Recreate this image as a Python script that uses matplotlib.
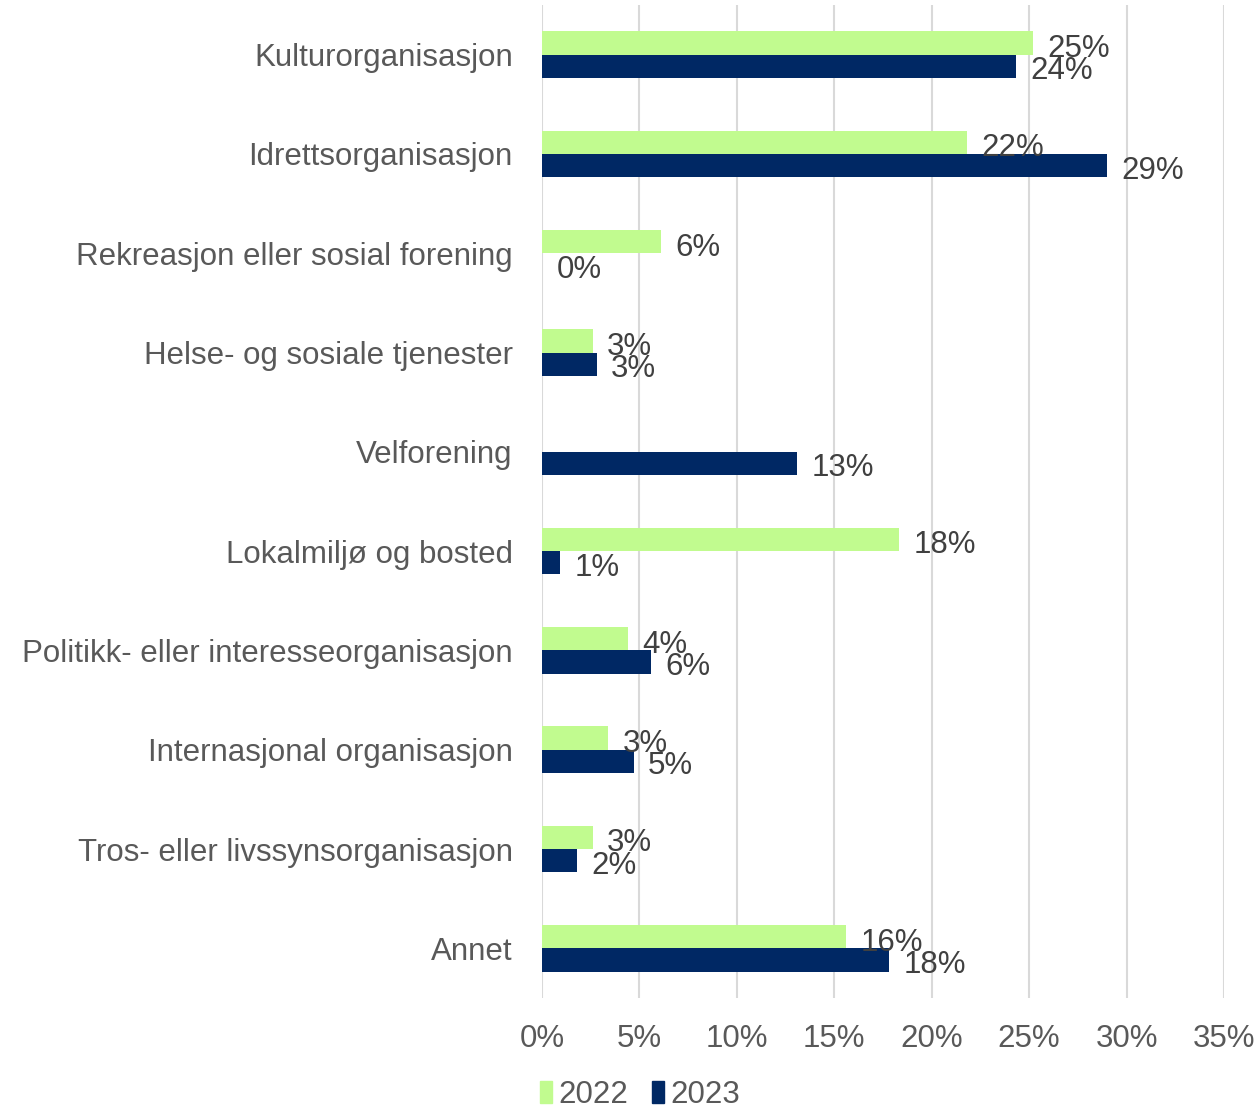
import numpy as np
import matplotlib
matplotlib.use("Agg")
import matplotlib.pyplot as plt
from matplotlib.ticker import FuncFormatter

categories = [
    "Kulturorganisasjon",
    "Idrettsorganisasjon",
    "Rekreasjon eller sosial forening",
    "Helse- og sosiale tjenester",
    "Velforening",
    "Lokalmiljø og bosted",
    "Politikk- eller interesseorganisasjon",
    "Internasjonal organisasjon",
    "Tros- eller livssynsorganisasjon",
    "Annet",
]
# percent; None = no 2022 value shown
vals_2022 = [25.2, 21.8, 6.1, 2.6, None, 18.3, 4.4, 3.4, 2.6, 15.6]
vals_2023 = [24.3, 29.0, 0.0, 2.8, 13.1, 0.9, 5.6, 4.7, 1.8, 17.8]
x_ticks = [0, 5, 10, 15, 20, 25, 30, 35]

C22 = "#c1fb8f"
C23 = "#002864"
FONT = "Liberation Sans"
FS = 22.5

plt.rcParams["font.family"] = [FONT, "DejaVu Sans"]

fig = plt.figure(figsize=(12.6, 11.1), dpi=100)
ax = fig.add_axes([542 / 1260, 1 - 998 / 1110, (1224 - 542) / 1260, (998 - 5) / 1110])

y = np.arange(len(categories))
h = 0.235
for i, (a, b) in enumerate(zip(vals_2022, vals_2023)):
    if a is not None:
        ax.barh(y[i] - h / 2, a, height=h, color=C22)
        ax.text(a + 0.75, y[i] - h / 2 + 0.06, f"{round(a):.0f}%", va="center", ha="left",
                fontsize=FS, color="#404040")
    ax.barh(y[i] + h / 2, b, height=h, color=C23)
    ax.text(b + 0.75, y[i] + h / 2 + 0.05, f"{round(b):.0f}%", va="center", ha="left",
            fontsize=FS, color="#404040")

ax.set_xlim(0, 35)
ax.set_ylim(len(categories) - 0.5, -0.5)
ax.set_xticks(x_ticks)
ax.xaxis.set_major_formatter(FuncFormatter(lambda v, p: f"{v:.0f}%"))
ax.set_yticks(y)
ax.set_yticklabels(categories)
ax.tick_params(axis="y", length=0, pad=21, labelsize=FS, labelcolor="#595959")
ax.tick_params(axis="x", length=0, pad=19, labelsize=FS, labelcolor="#595959")
ax.grid(True, axis="x", color="#d9d9d9", linewidth=1.5)
ax.set_axisbelow(True)
for s in ax.spines.values():
    s.set_visible(False)

handles = [plt.Rectangle((0, 0), 1, 1, color=C22), plt.Rectangle((0, 0), 1, 1, color=C23)]
fig.legend(handles, ["2022", "2023"], loc="lower center", bbox_to_anchor=(0.508, -0.025),
           ncol=2, frameon=False, fontsize=FS, handlelength=0.38, handleheight=0.7,
           handletextpad=0.2, columnspacing=0.75, labelcolor="#595959")

fig.savefig("out.png", dpi=100)
